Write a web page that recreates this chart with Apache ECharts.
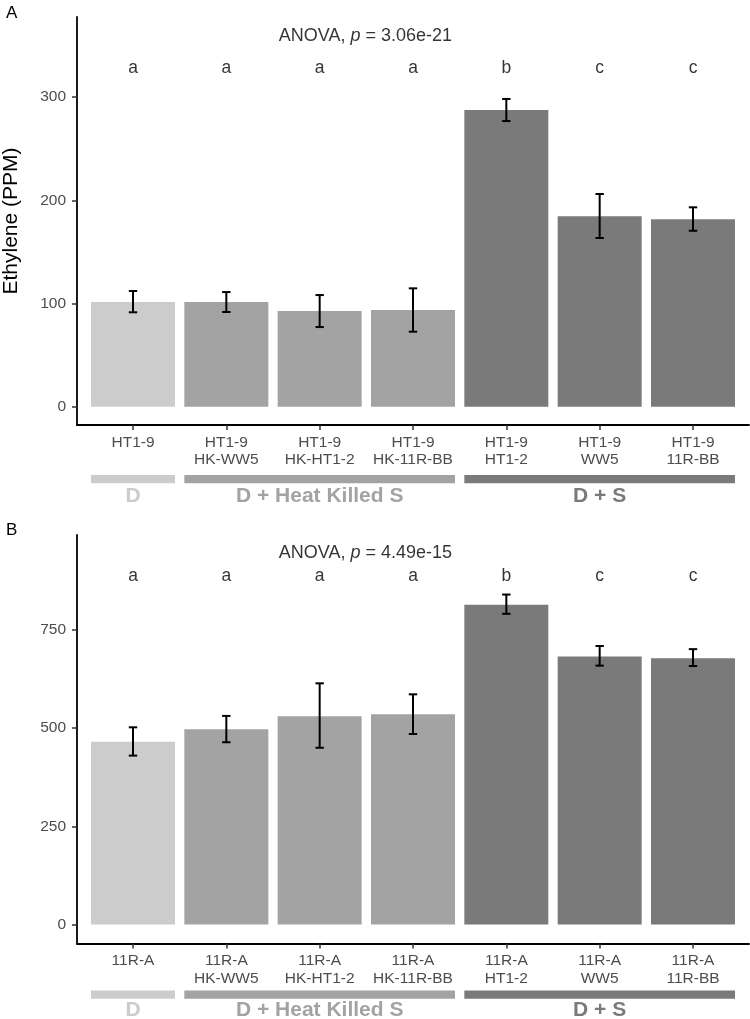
<!DOCTYPE html>
<html>
<head>
<meta charset="utf-8">
<script src="https://cdn.jsdelivr.net/npm/echarts@6/dist/echarts.min.js"></script>
<style>
html, body { margin: 0; padding: 0; background: #fff; }
#main { width: 750px; height: 1019px; }
</style>
</head>
<body>
<div id="main"></div>
<script>
// data
var categoriesA = ['HT1-9', 'HT1-9\nHK-WW5', 'HT1-9\nHK-HT1-2', 'HT1-9\nHK-11R-BB', 'HT1-9\nHT1-2', 'HT1-9\nWW5', 'HT1-9\n11R-BB'];
var categoriesB = ['11R-A', '11R-A\nHK-WW5', '11R-A\nHK-HT1-2', '11R-A\nHK-11R-BB', '11R-A\nHT1-2', '11R-A\nWW5', '11R-A\n11R-BB'];
var meansA = [101.4, 101.4, 92.7, 93.7, 287.5, 184.5, 181.6];
var lowA = [91.5, 91.8, 77.2, 72.7, 276.8, 163.5, 170.5];
var highA = [112.1, 111.1, 108.2, 114.7, 298.2, 206.1, 193.2];
var meansB = [465, 497, 530, 535, 814, 682, 678];
var lowB = [430, 464, 450, 485, 791, 659, 658];
var highB = [502, 531, 614, 586, 840, 709, 701];
var lettersA = ['a', 'a', 'a', 'a', 'b', 'c', 'c'];
var lettersB = ['a', 'a', 'a', 'a', 'b', 'c', 'c'];
var barGroup = [0, 1, 1, 1, 2, 2, 2];
var groupNames = ['D', 'D + Heat Killed S', 'D + S'];
var groupStart = [1, 2, 5];
var groupEnd = [1, 4, 7];
var yRangeA = [-17.7, 377.6];
var yTicksA = [0, 100, 200, 300];
var yRangeB = [-48.1, 991.6];
var yTicksB = [0, 250, 500, 750];
var letterYA = 327.7, anovaYA = 359.2;
var letterYB = 886.4, anovaYB = 946.5;
var anovaX = 3.49;
var pTextA = '3.06e-21';
var pTextB = '4.49e-15';

var groupColors = ['#cccccc', '#a3a3a3', '#7a7a7a'];
var FONT = 'Liberation Sans, Arial, sans-serif';
var xPos = [1, 2, 3, 4, 5, 6, 7];

var chart = echarts.init(document.getElementById('main'), null, { renderer: 'canvas' });

function xAxisFor(idx, cats) {
	return {
		type: 'value', gridIndex: idx, min: 0.4, max: 7.6,
		splitLine: { show: false },
		axisLine: { show: true, onZero: false, lineStyle: { color: '#000', width: 1.8 } },
		axisTick: { show: true, length: 5, customValues: xPos, lineStyle: { color: '#333', width: 1.5 } },
		axisLabel: {
			customValues: xPos, margin: 9, color: '#4d4d4d', fontSize: 15.5, lineHeight: 17.3,
			fontFamily: FONT, verticalAlign: 'top',
			formatter: function(v) { return cats[Math.round(v) - 1]; }
		}
	};
}

function yAxisFor(idx, range, ticks, name) {
	return {
		type: 'value', gridIndex: idx, min: range[0], max: range[1],
		name: name, nameLocation: 'middle', nameGap: 55, nameRotate: 90,
		nameTextStyle: { fontSize: 21, color: '#000', fontFamily: FONT },
		splitLine: { show: false },
		axisLine: { show: true, onZero: false, lineStyle: { color: '#000', width: 1.8 } },
		axisTick: { show: true, length: 5, customValues: ticks, lineStyle: { color: '#333', width: 1.5 } },
		axisLabel: { customValues: ticks, margin: 11, color: '#4d4d4d', fontSize: 15.5, fontFamily: FONT }
	};
}

function barSeries(idx, means) {
	return {
		type: 'bar', xAxisIndex: idx, yAxisIndex: idx, barWidth: 84, silent: true, z: 2,
		data: means.map(function(v, i) {
			return { value: [xPos[i], v], itemStyle: { color: groupColors[barGroup[i]] } };
		})
	};
}

function errorSeries(idx, low, high) {
	return {
		type: 'custom', xAxisIndex: idx, yAxisIndex: idx, silent: true, z: 5,
		data: low.map(function(v, i) { return [xPos[i], v, high[i]]; }),
		renderItem: function(params, api) {
			var x = api.value(0);
			var lo = api.coord([x, api.value(1)]);
			var hi = api.coord([x, api.value(2)]);
			var half = 4.2;
			var style = { stroke: '#000', lineWidth: 2 };
			return {
				type: 'group',
				children: [
					{ type: 'line', shape: { x1: lo[0], y1: lo[1], x2: hi[0], y2: hi[1] }, style: style },
					{ type: 'line', shape: { x1: lo[0] - half, y1: lo[1], x2: lo[0] + half, y2: lo[1] }, style: style },
					{ type: 'line', shape: { x1: hi[0] - half, y1: hi[1], x2: hi[0] + half, y2: hi[1] }, style: style }
				]
			};
		}
	};
}

function letterSeries(idx, letters, y) {
	return {
		type: 'scatter', xAxisIndex: idx, yAxisIndex: idx, symbolSize: 0, silent: true,
		data: letters.map(function(l, i) { return { value: [xPos[i], y], name: l }; }),
		label: {
			show: true, position: 'inside', formatter: '{b}',
			color: '#000', fontSize: 17.5, fontFamily: FONT
		}
	};
}

function anovaSeries(idx, y, pText) {
	return {
		type: 'scatter', xAxisIndex: idx, yAxisIndex: idx, symbolSize: 0, silent: true,
		data: [{ value: [anovaX, y], name: pText }],
		label: {
			show: true, position: 'inside',
			formatter: function(p) { return 'ANOVA, {i|p} = ' + p.name; },
			color: '#000', fontSize: 18, fontFamily: FONT,
			rich: { i: { fontStyle: 'italic', fontSize: 18, fontFamily: FONT, color: '#000' } }
		}
	};
}

function groupSeries(idx, yMin, barOff, textOff) {
	return {
		type: 'custom', xAxisIndex: idx, yAxisIndex: idx, silent: true, clip: false,
		data: groupNames.map(function(n, i) { return [groupStart[i], groupEnd[i], i]; }),
		renderItem: function(params, api) {
			var g = api.value(2);
			var a = api.coord([api.value(0) - 0.45, yMin]);
			var b = api.coord([api.value(1) + 0.45, yMin]);
			var col = groupColors[g];
			return {
				type: 'group',
				children: [
					{ type: 'rect', shape: { x: a[0], y: a[1] + barOff, width: b[0] - a[0], height: 8.3 }, style: { fill: col } },
					{ type: 'text', x: (a[0] + b[0]) / 2, y: a[1] + textOff,
						style: { text: groupNames[g], fill: col, font: 'bold 21px ' + FONT, align: 'center', verticalAlign: 'middle' } }
				]
			};
		}
	};
}

var option = {
	animation: false,
	backgroundColor: '#fff',
	textStyle: { fontFamily: FONT },
	title: [
		{ text: 'A', left: 1, top: 0, textStyle: { fontSize: 17, fontWeight: 'normal', color: '#000', fontFamily: FONT } },
		{ text: 'B', left: 1, top: 517, textStyle: { fontSize: 17, fontWeight: 'normal', color: '#000', fontFamily: FONT } }
	],
	grid: [
		{ left: 77, right: 1, top: 17, height: 408, containLabel: false, outerBoundsMode: 'none' },
		{ left: 77, right: 1, top: 535, height: 408.4, containLabel: false, outerBoundsMode: 'none' }
	],
	xAxis: [xAxisFor(0, categoriesA), xAxisFor(1, categoriesB)],
	yAxis: [yAxisFor(0, yRangeA, yTicksA, 'Ethylene (PPM)'), yAxisFor(1, yRangeB, yTicksB, '')],
	series: [
		barSeries(0, meansA),
		errorSeries(0, lowA, highA),
		letterSeries(0, lettersA, letterYA),
		anovaSeries(0, anovaYA, pTextA),
		groupSeries(0, yRangeA[0], 50, 71),
		barSeries(1, meansB),
		errorSeries(1, lowB, highB),
		letterSeries(1, lettersB, letterYB),
		anovaSeries(1, anovaYB, pTextB),
		groupSeries(1, yRangeB[0], 47, 67)
	]
};

chart.setOption(option);
</script>
</body>
</html>
